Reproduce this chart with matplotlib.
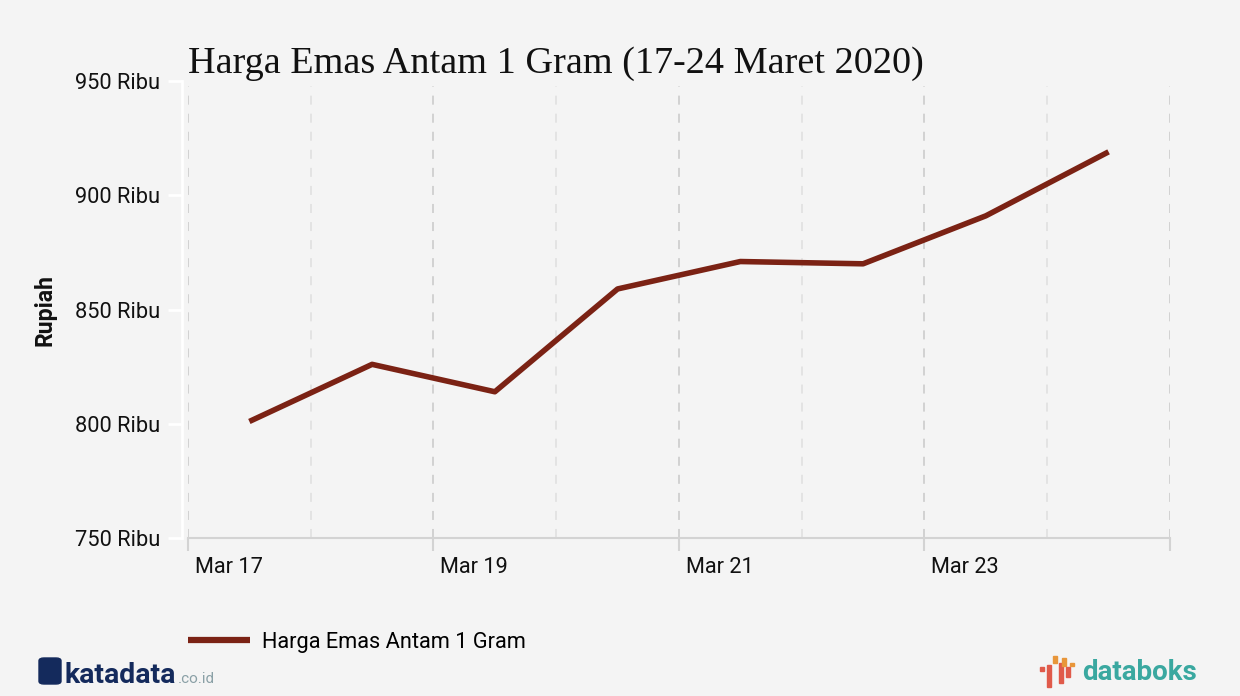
import matplotlib
matplotlib.use("Agg")
import matplotlib.pyplot as plt
import matplotlib.patches as patches
import matplotlib.transforms as mtransforms

# data (ribu rupiah)
dates = ["Mar 17", "Mar 18", "Mar 19", "Mar 20", "Mar 21", "Mar 22", "Mar 23", "Mar 24"]
harga = [801, 826, 814, 859, 871, 870, 891, 919]
y_ticks = [750, 800, 850, 900, 950]
y_labels = ["750 Ribu", "800 Ribu", "850 Ribu", "900 Ribu", "950 Ribu"]
x_tick_labels = ["Mar 17", "Mar 19", "Mar 21", "Mar 23", ""]

BG = "#f4f4f4"
LINE = "#7b2214"
FS = 15.7

plt.rcParams['font.family'] = ['Roboto', 'DejaVu Sans']

fig = plt.figure(figsize=(12.4, 6.96), dpi=100, facecolor=BG)
ax = fig.add_axes([0.1516, 0.227, 0.7919, 0.6566], facecolor=BG)

# spines first (set_position resets the ticks)
for s in ["top", "right"]:
    ax.spines[s].set_visible(False)
ax.spines["left"].set_position(("outward", 4))
ax.spines["left"].set_color("white")
ax.spines["left"].set_linewidth(2)
ax.spines["bottom"].set_color("#d3d3d3")
ax.spines["bottom"].set_linewidth(1.5)

# data points sit in the middle of each day
xs = [i + 0.5 for i in range(len(dates))]
ax.plot(xs, harga, color=LINE, lw=4, solid_capstyle='butt', zorder=3,
        label="Harga Emas Antam 1 Gram")

ax.set_xlim(0, len(dates))
ax.set_ylim(750, 950)

# day gridlines: even days darker
for d in range(len(dates) + 1):
    c = "#cfcfcf" if d % 2 == 0 else "#e2e2e2"
    ax.axvline(d, ymin=0, ymax=0.99, color=c, lw=1.3, ls=(0, (5, 5)), zorder=1)

ax.set_yticks(y_ticks)
ax.set_yticklabels(y_labels, fontsize=FS, color="#111111")
ax.set_xticks(list(range(0, len(dates) + 1, 2)))
ax.set_xticklabels(x_tick_labels, fontsize=FS, ha='left', color="#111111")
ax.tick_params(axis='x', length=9, width=1.5, color="#d3d3d3", pad=5)
ax.tick_params(axis='y', length=10, width=2, color="white", pad=6)
offset = mtransforms.ScaledTranslation(7 / 100, 0, fig.dpi_scale_trans)
for lbl in ax.get_xticklabels():
    lbl.set_transform(lbl.get_transform() + offset)

ax.set_ylabel("Rupiah", fontsize=16.7, fontweight='bold', color="#111111")
ax.yaxis.set_label_coords(-0.1334, 0.5)

fig.text(0.1516, 1 - 73 / 696, "Harga Emas Antam 1 Gram (17-24 Maret 2020)",
         fontsize=27.5, family=['Liberation Serif', 'DejaVu Serif'], color="#111111",
         va='baseline')

# legend
leg = ax.legend(loc='center left', bbox_to_anchor=(0, (538 - 642) / 457), frameon=False,
                fontsize=FS, handlelength=2.85, handletextpad=0.55,
                borderpad=0, borderaxespad=0)
for h in leg.get_lines():
    h.set_linewidth(4.5)

# katadata logo
fig.patches.append(patches.FancyBboxPatch((39 / 1240, 1 - 684 / 696), 22 / 1240, 26 / 696,
                                          boxstyle="round,pad=0,rounding_size=0.004",
                                          transform=fig.transFigure, color="#142a5c"))
fig.text(65 / 1240, 1 - 683 / 696, "katadata", fontsize=20.5, fontweight='bold',
         color="#142a5c", va='baseline')
fig.text(178 / 1240, 1 - 683 / 696, ".co.id", fontsize=11, color="#8aa0a6", va='baseline')

# databoks logo
bars = [(1040, 667, 671, "#e05a4a"), (1047, 665, 687, "#e05a4a"), (1053, 656, 663, "#e8963a"),
        (1059, 663, 683, "#e05a4a"), (1062, 658, 666, "#e8963a"), (1066, 667, 677, "#e05a4a"),
        (1070, 663, 666, "#e8963a")]
for bx, y0, y1, bc in bars:
    fig.patches.append(patches.Rectangle((bx / 1240, 1 - y1 / 696), 3.5 / 1240, (y1 - y0) / 696,
                                         transform=fig.transFigure, color=bc))
fig.text(1082 / 1240, 1 - 680 / 696, "databoks", fontsize=20, fontweight='bold',
         color="#3aa8a0", va='baseline')

fig.savefig("out.png", dpi=100, facecolor=BG)
